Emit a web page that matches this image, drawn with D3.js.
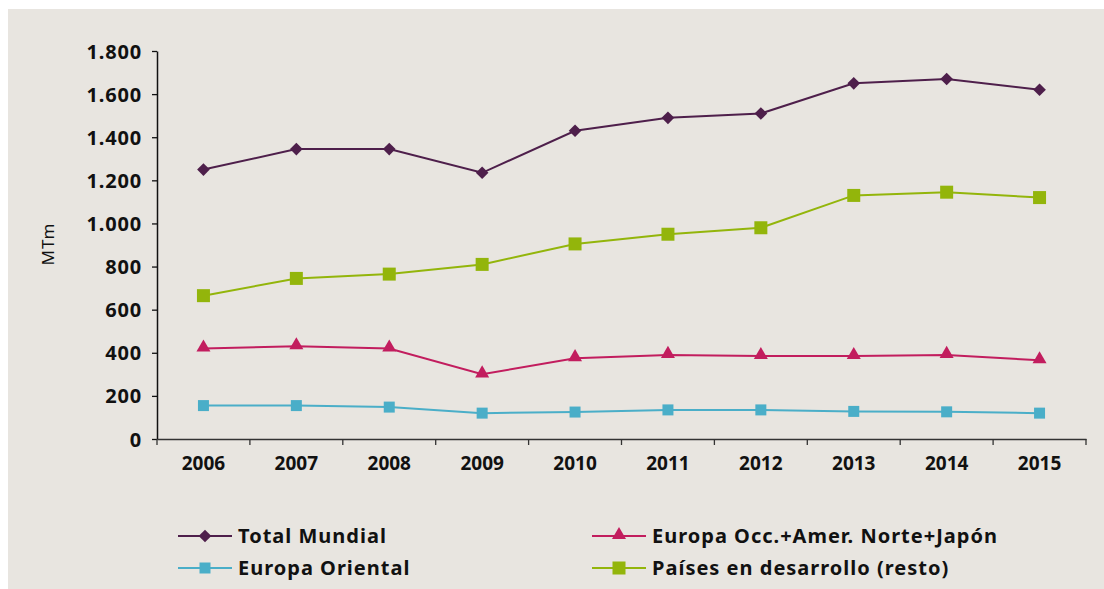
<!DOCTYPE html>
<html>
<head>
<meta charset="utf-8">
<script src="https://cdn.jsdelivr.net/npm/d3@7"></script>
<style>
  html, body { margin: 0; padding: 0; background: #ffffff; }
  svg { display: block; }
</style>
</head>
<body>
<svg id="chart" width="1104" height="589"></svg>
<script>
const years = ["2006","2007","2008","2009","2010","2011","2012","2013","2014","2015"];
const totalMundial = [1250, 1345, 1345, 1235, 1430, 1490, 1510, 1650, 1670, 1620];
const europaOcc = [420, 430, 420, 300, 375, 390, 385, 385, 390, 365];
const europaOriental = [155, 155, 148, 120, 125, 135, 135, 128, 126, 120];
const paisesDesarrollo = [665, 745, 765, 810, 905, 950, 980, 1130, 1145, 1120];
const yTicks = [0, 200, 400, 600, 800, 1000, 1200, 1400, 1600, 1800];
const yTickLabels = ["0","200","400","600","800","1.000","1.200","1.400","1.600","1.800"];
const yLabel = "MTm";

const series = [
  { name: "Total Mundial", values: totalMundial, color: "#4e1f4b", marker: "diamond", size: 80 },
  { name: "Europa Occ.+Amer. Norte+Japón", values: europaOcc, color: "#c21d5e", marker: "triangle", size: 85 },
  { name: "Europa Oriental", values: europaOriental, color: "#4aaec8", marker: "square", size: 121 },
  { name: "Países en desarrollo (resto)", values: paisesDesarrollo, color: "#93b50b", marker: "square", size: 169 }
];

const svg = d3.select("#chart");
svg.append("rect").attr("x", 8).attr("y", 9).attr("width", 1096).attr("height", 580).attr("fill", "#e8e5e0");

const x = d3.scaleBand().domain(years).range([157, 1086]);
const y = d3.scaleLinear().domain([0, 1800]).range([439, 51]);

const font = "'Noto Sans', 'DejaVu Sans', sans-serif";

// Y axis
const yAxis = svg.append("g").attr("transform", "translate(157,0)")
  .call(d3.axisLeft(y).tickValues(yTicks).tickFormat((d, i) => yTickLabels[i]).tickSize(5).tickSizeOuter(0));
yAxis.select(".domain").attr("stroke", "#111").attr("stroke-width", 1.5);
yAxis.selectAll(".tick line").attr("stroke", "#111").attr("stroke-width", 1.3);
yAxis.selectAll("text").attr("font-family", font).attr("font-weight", "bold").attr("font-size", 20)
  .attr("letter-spacing", 0.8).attr("fill", "#111").attr("x", -15).attr("dy", "0.35em");

// X axis
const xAxis = svg.append("g").attr("transform", "translate(0,439)")
  .call(d3.axisBottom(x).tickSize(0).tickSizeOuter(0));
xAxis.select(".domain").attr("stroke", "#333").attr("stroke-width", 1.5);
xAxis.selectAll("text").attr("font-family", font).attr("font-weight", "bold").attr("font-size", 19)
  .attr("fill", "#111").attr("y", 31).attr("dy", 0);
// band boundary ticks
const bounds = years.map(d => x(d)).concat([x.range()[1]]);
xAxis.selectAll(".btick").data(bounds).enter().append("line")
  .attr("class", "btick").attr("x1", d => d).attr("x2", d => d)
  .attr("y1", 0).attr("y2", 6).attr("stroke", "#333").attr("stroke-width", 1.3);

// Y label
svg.append("text").attr("transform", "translate(54,244) rotate(-90)")
  .attr("text-anchor", "middle").attr("font-family", font).attr("font-size", 17)
  .attr("letter-spacing", 1).attr("fill", "#111").text(yLabel);

function symbolFor(s) {
  const t = s.marker === "triangle" ? d3.symbolTriangle : d3.symbolSquare;
  return d3.symbol().type(t).size(s.size)();
}
function markerTransform(s, cx, cy) {
  if (s.marker === "diamond") return `translate(${cx},${cy}) rotate(45)`;
  if (s.marker === "triangle") return `translate(${cx},${cy - 1})`;
  return `translate(${cx},${cy})`;
}

const line = d3.line().x((d, i) => x(years[i]) + x.bandwidth() / 2).y(d => y(d));

const drawOrder = [series[2], series[1], series[3], series[0]];
drawOrder.forEach(s => {
  const g = svg.append("g");
  g.append("path").datum(s.values).attr("d", line).attr("fill", "none")
    .attr("stroke", s.color).attr("stroke-width", 2);
  g.selectAll("path.m").data(s.values).enter().append("path").attr("class", "m")
    .attr("d", symbolFor(s))
    .attr("transform", (d, i) => markerTransform(s, x(years[i]) + x.bandwidth() / 2, y(d)))
    .attr("fill", s.color);
});

// Legend
const legendPos = [
  { x: 178, y: 536 },
  { x: 592, y: 536 },
  { x: 178, y: 568 },
  { x: 592, y: 568 }
];
series.forEach((s, i) => {
  const p = legendPos[i];
  const g = svg.append("g").attr("transform", `translate(${p.x},${p.y})`);
  g.append("line").attr("x1", 0).attr("x2", 54).attr("y1", 0).attr("y2", 0)
    .attr("stroke", s.color).attr("stroke-width", 2);
  g.append("path").attr("d", symbolFor(s)).attr("transform", markerTransform(s, 27, 0)).attr("fill", s.color);
  g.append("text").attr("x", 60).attr("y", 0).attr("dy", "0.36em")
    .attr("font-family", font).attr("font-weight", "bold").attr("font-size", 20)
    .attr("letter-spacing", 1).attr("fill", "#111").text(s.name);
});
</script>
</body>
</html>
